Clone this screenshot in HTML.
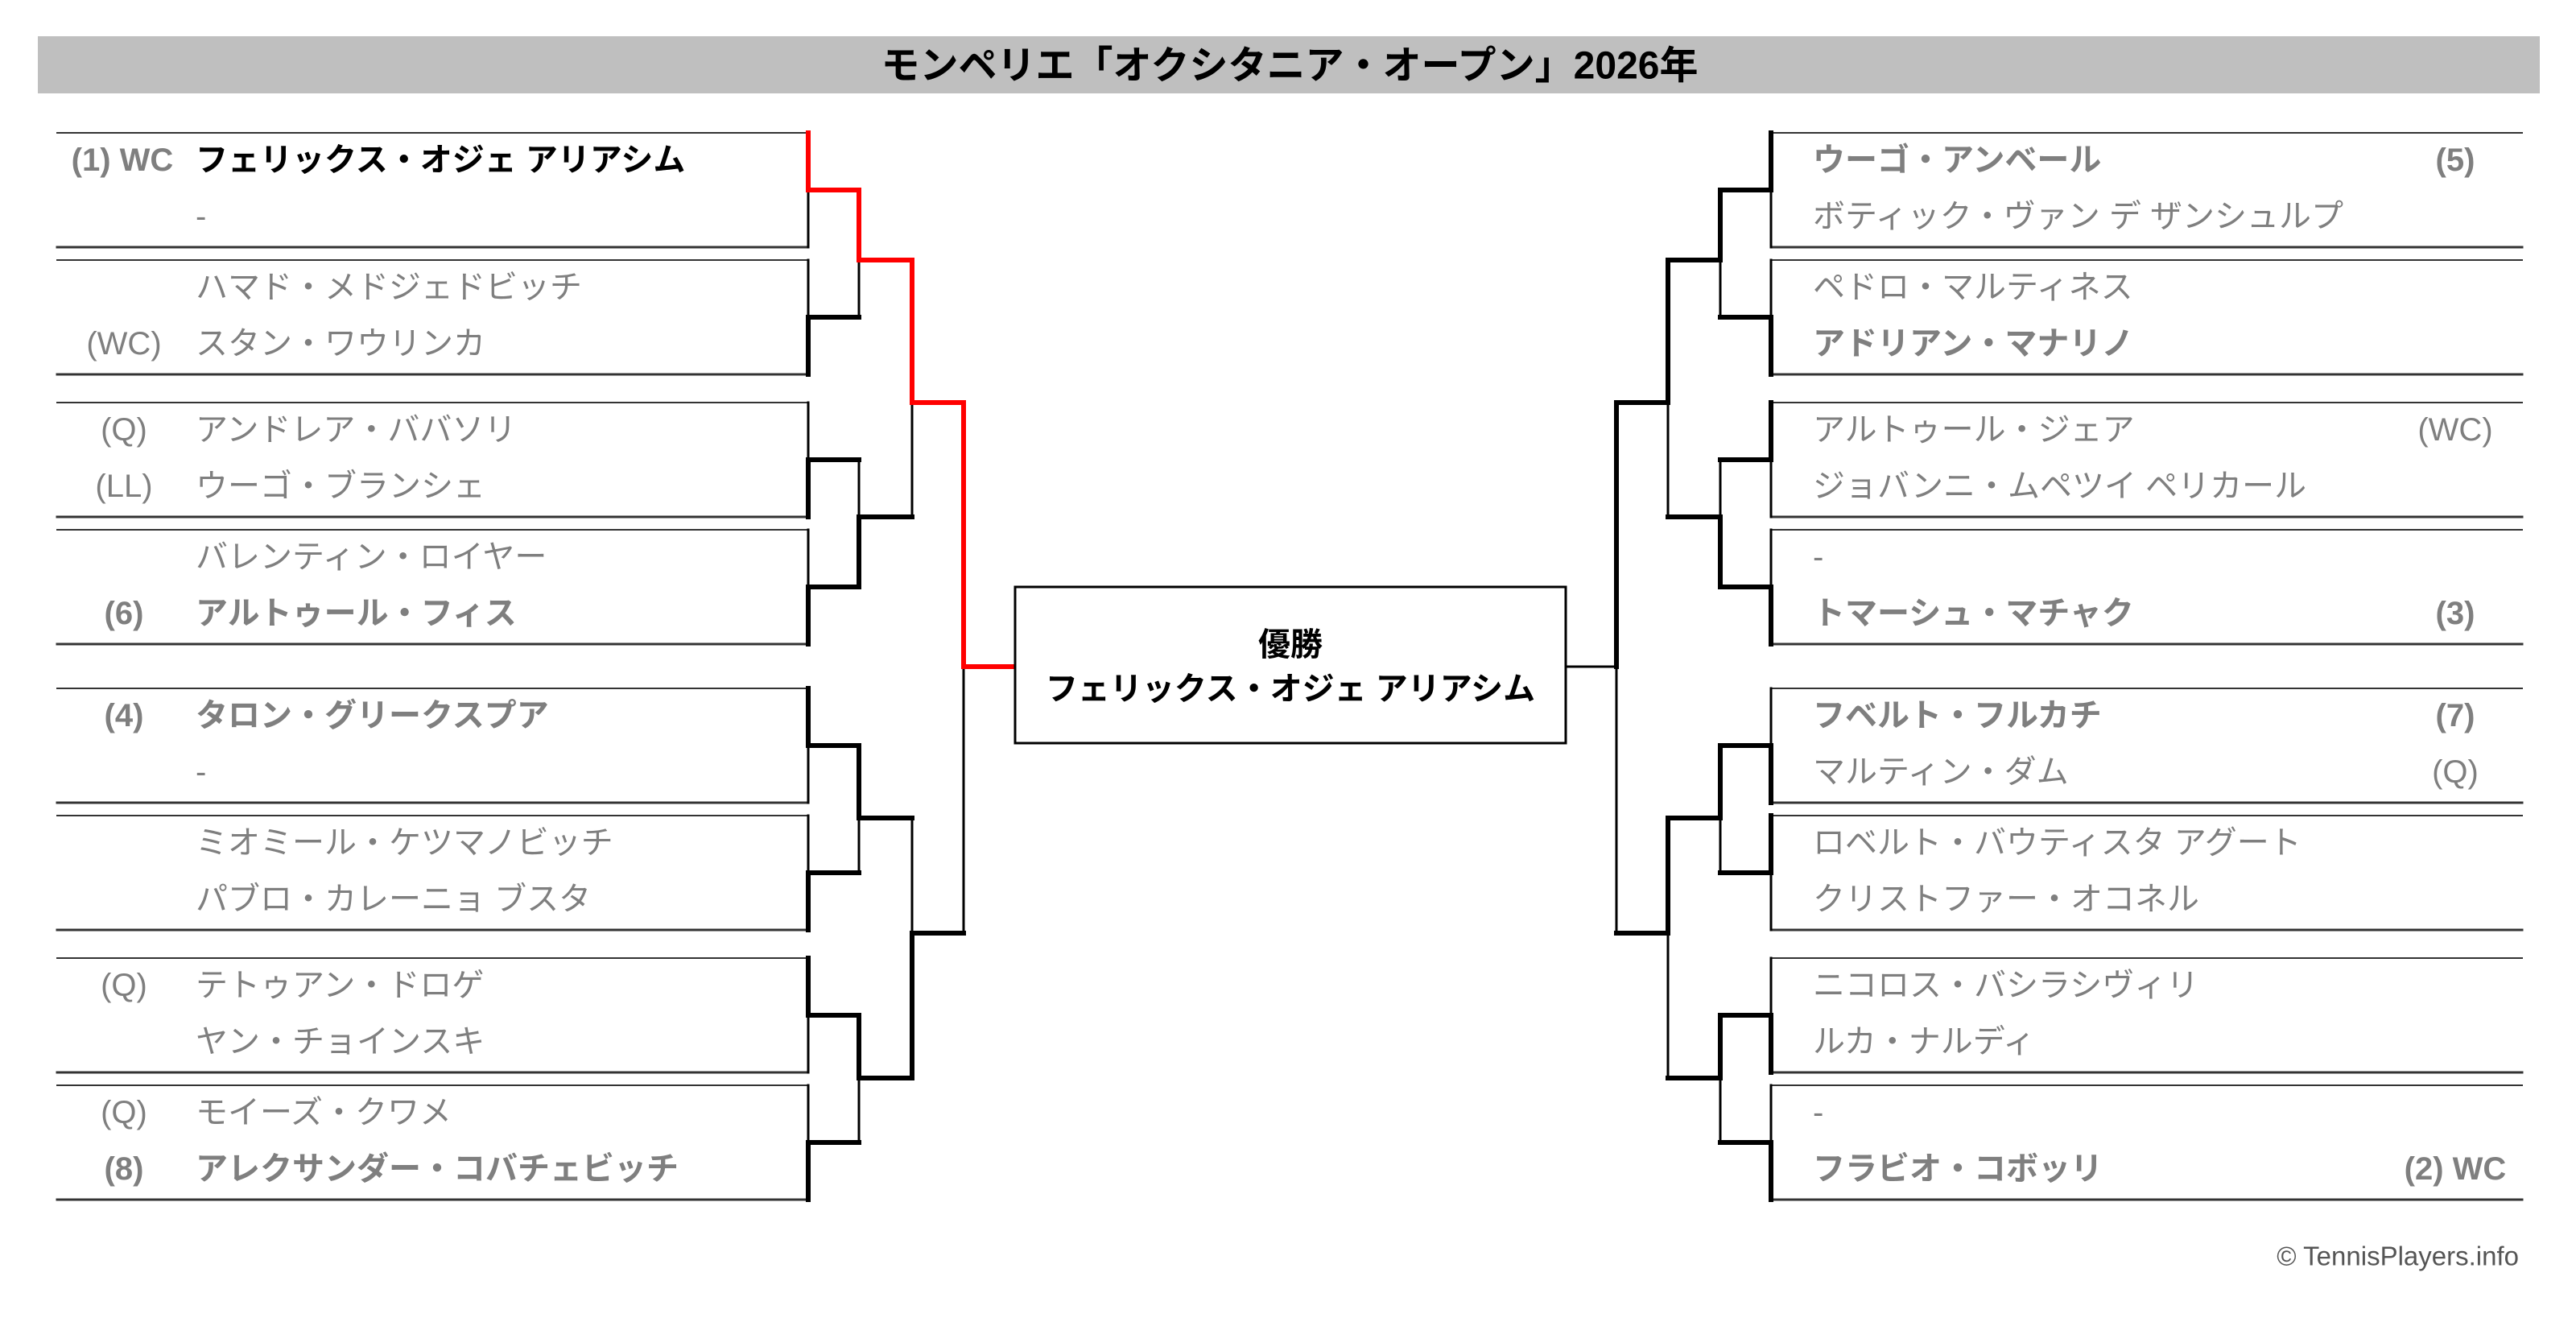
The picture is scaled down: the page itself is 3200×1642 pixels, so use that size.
<!DOCTYPE html>
<html><head><meta charset="utf-8"><style>
html,body{margin:0;padding:0;background:#fff;}
svg{display:block;}
text{font-family:"Liberation Sans","Noto Sans CJK JP",sans-serif;}
.n{font-size:40px;fill:#7f7f7f;}
.b{font-weight:bold;}
.k{fill:#000;}
.s{text-anchor:middle;}
</style></head><body>
<svg width="3200" height="1642" viewBox="0 0 3200 1642" xmlns="http://www.w3.org/2000/svg">
<rect x="47" y="45" width="3108" height="71" fill="#bfbfbf"/>
<text x="1602" y="82" font-size="48" font-weight="bold" text-anchor="middle" dominant-baseline="central" fill="#000">モンペリエ「オクシタニア・オープン」2026年</text>

<g stroke-linecap="square" fill="none">
<g stroke="#333">
<path d="M71 165H1004M71 323H1004M71 500H1004M71 658H1004M71 855H1004M71 1013H1004M71 1190H1004M71 1348H1004" stroke-width="2"/>
<path d="M71 307H1004M71 465H1004M71 642H1004M71 800H1004M71 997H1004M71 1155H1004M71 1332H1004M71 1490H1004" stroke-width="3"/>
<path d="M2200 165H3133M2200 323H3133M2200 500H3133M2200 658H3133M2200 855H3133M2200 1013H3133M2200 1190H3133M2200 1348H3133" stroke-width="2"/>
<path d="M2200 307H3133M2200 465H3133M2200 642H3133M2200 800H3133M2200 997H3133M2200 1155H3133M2200 1332H3133M2200 1490H3133" stroke-width="3"/>
</g>
<g stroke="#000" stroke-width="3">
<path d="M1004 165V307M1004 323V465M1004 500V642M1004 658V800M1004 855V997M1004 1013V1155M1004 1190V1332M1004 1348V1490"/>
<path d="M1067 236V394M1067 571V729M1067 926V1084M1067 1261V1419M1133 323V642M1133 1016V1339M1197 500V1159"/>
<path d="M2200 165V307M2200 323V465M2200 500V642M2200 658V800M2200 855V997M2200 1013V1155M2200 1190V1332M2200 1348V1490"/>
<path d="M2137 236V394M2137 571V729M2137 926V1084M2137 1261V1419M2072 323V642M2072 1016V1339M2008 500V1159"/>
<path d="M1945 828H2008"/>
</g>
<g stroke="#000" stroke-width="6">
<path d="M1004 394V465M1004 571V642M1004 729V800M1004 855V926M1004 1084V1155M1004 1190V1261M1004 1419V1490"/>
<path d="M1004 394H1067M1004 571H1067M1004 729H1067M1004 926H1067M1004 1084H1067M1004 1261H1067M1004 1419H1067"/>
<path d="M1067 642V729M1067 926V1016M1067 1261V1339M1067 642H1133M1067 1016H1133M1067 1339H1133"/>
<path d="M1133 1159V1339M1133 1159H1197"/>
<path d="M2200 165V236M2200 394V465M2200 500V571M2200 729V800M2200 926V997M2200 1013V1084M2200 1261V1332M2200 1419V1490"/>
<path d="M2137 236H2200M2137 394H2200M2137 571H2200M2137 729H2200M2137 926H2200M2137 1084H2200M2137 1261H2200M2137 1419H2200"/>
<path d="M2137 236V323M2137 642V729M2137 926V1016M2137 1261V1339M2072 323H2137M2072 642H2137M2072 1016H2137M2072 1339H2137"/>
<path d="M2072 323V500M2072 1016V1159M2008 500H2072M2008 1159H2072M2008 500V828"/>
</g>
<path d="M1004 165V236H1067V323H1133V500H1197V828H1261" stroke="#ff0000" stroke-width="6"/>
<rect x="1261" y="729" width="684" height="194" stroke="#000" stroke-width="3" fill="#fff"/>
</g>

<text x="1603" y="801" font-size="40" font-weight="bold" text-anchor="middle" dominant-baseline="central" fill="#000">優勝</text>
<text x="1603" y="856" font-size="40" font-weight="bold" text-anchor="middle" dominant-baseline="central" fill="#000">フェリックス・オジェ アリアシム</text>

<g dominant-baseline="central">
<text class="n b s" x="152" y="199">(1) WC</text><text class="n b k" x="243" y="199">フェリックス・オジェ アリアシム</text>
<text class="n" x="243" y="269">-</text>
<text class="n" x="243" y="357">ハマド・メドジェドビッチ</text>
<text class="n s" x="154" y="427">(WC)</text><text class="n" x="243" y="427">スタン・ワウリンカ</text>
<text class="n s" x="154" y="534">(Q)</text><text class="n" x="243" y="534">アンドレア・ババソリ</text>
<text class="n s" x="154" y="604">(LL)</text><text class="n" x="243" y="604">ウーゴ・ブランシェ</text>
<text class="n" x="243" y="692">バレンティン・ロイヤー</text>
<text class="n b s" x="154" y="762">(6)</text><text class="n b" x="243" y="762">アルトゥール・フィス</text>
<text class="n b s" x="154" y="889">(4)</text><text class="n b" x="243" y="889">タロン・グリークスプア</text>
<text class="n" x="243" y="959">-</text>
<text class="n" x="243" y="1047">ミオミール・ケツマノビッチ</text>
<text class="n" x="243" y="1117">パブロ・カレーニョ ブスタ</text>
<text class="n s" x="154" y="1224">(Q)</text><text class="n" x="243" y="1224">テトゥアン・ドロゲ</text>
<text class="n" x="243" y="1294">ヤン・チョインスキ</text>
<text class="n s" x="154" y="1382">(Q)</text><text class="n" x="243" y="1382">モイーズ・クワメ</text>
<text class="n b s" x="154" y="1452">(8)</text><text class="n b" x="243" y="1452">アレクサンダー・コバチェビッチ</text>
<text class="n b" x="2252" y="199">ウーゴ・アンベール</text><text class="n b s" x="3050" y="199">(5)</text>
<text class="n" x="2252" y="269">ボティック・ヴァン デ ザンシュルプ</text>
<text class="n" x="2252" y="357">ペドロ・マルティネス</text>
<text class="n b" x="2252" y="427">アドリアン・マナリノ</text>
<text class="n" x="2252" y="534">アルトゥール・ジェア</text><text class="n s" x="3050" y="534">(WC)</text>
<text class="n" x="2252" y="604">ジョバンニ・ムペツイ ペリカール</text>
<text class="n" x="2252" y="692">-</text>
<text class="n b" x="2252" y="762">トマーシュ・マチャク</text><text class="n b s" x="3050" y="762">(3)</text>
<text class="n b" x="2252" y="889">フベルト・フルカチ</text><text class="n b s" x="3050" y="889">(7)</text>
<text class="n" x="2252" y="959">マルティン・ダム</text><text class="n s" x="3050" y="959">(Q)</text>
<text class="n" x="2252" y="1047">ロベルト・バウティスタ アグート</text>
<text class="n" x="2252" y="1117">クリストファー・オコネル</text>
<text class="n" x="2252" y="1224">ニコロス・バシラシヴィリ</text>
<text class="n" x="2252" y="1294">ルカ・ナルディ</text>
<text class="n" x="2252" y="1382">-</text>
<text class="n b" x="2252" y="1452">フラビオ・コボッリ</text><text class="n b s" x="3050" y="1452">(2) WC</text>
</g>
<text x="3129" y="1560" font-size="33" fill="#555" text-anchor="end" dominant-baseline="central">© TennisPlayers.info</text>
</svg>
</body></html>
